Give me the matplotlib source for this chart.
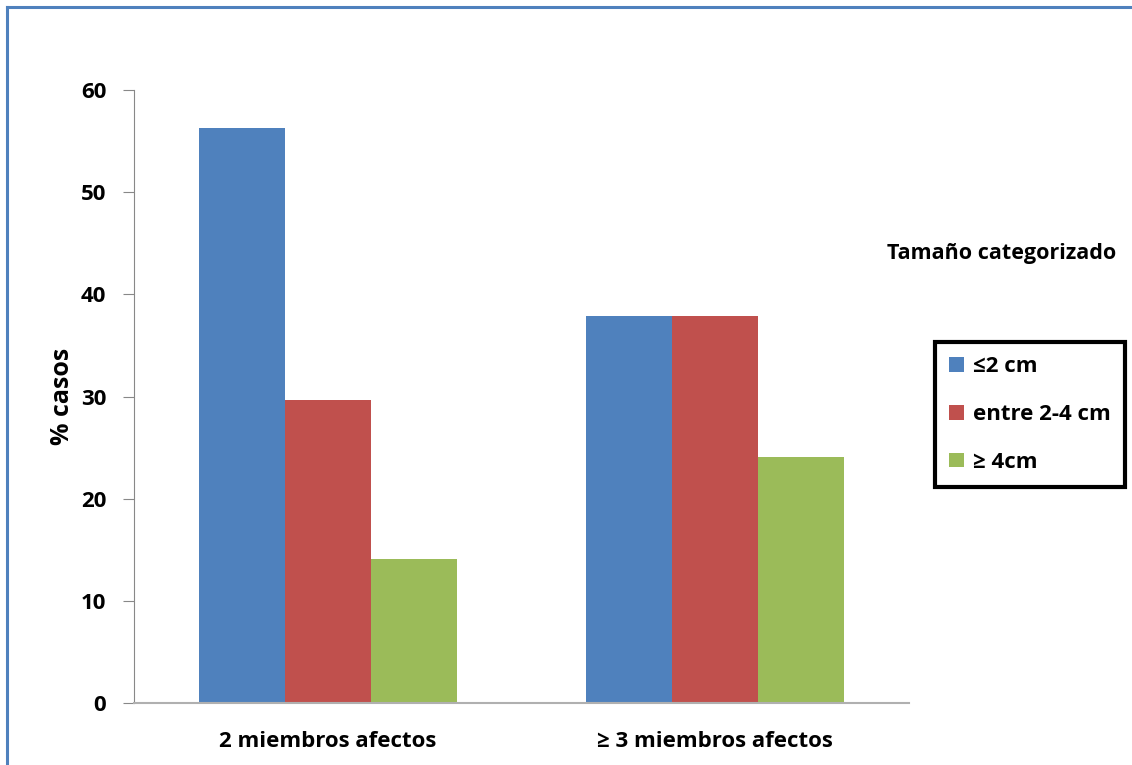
import matplotlib.pyplot as plt
import numpy as np

plt.rcParams['font.family'] = ['Open Sans', 'DejaVu Sans']
plt.rcParams['font.weight'] = 'bold'

grupos = ['2 miembros afectos', '≥ 3 miembros afectos']
series = ['≤2 cm', 'entre 2-4 cm', '≥ 4cm']
menor_2 = [56.3, 37.9]
entre_2_4 = [29.7, 37.9]
mayor_4 = [14.1, 24.1]
colores = ['#4f81bd', '#c0504d', '#9bbb59']

fig = plt.figure(figsize=(11.32, 7.65), dpi=100)
ax = fig.add_axes([0.1184, 0.0810, 0.6846, 0.8013])

x = np.arange(len(grupos))
w = 0.222
for i, (vals, lab) in enumerate(zip([menor_2, entre_2_4, mayor_4], series)):
    ax.bar(x + (i - 1) * w, vals, width=w, color=colores[i], label=lab)

ax.set_xlim(-0.5, 1.5)
ax.set_ylim(0, 60)
ax.set_yticks(range(0, 61, 10))
ax.set_xticks(x)
ax.set_xticklabels(grupos, fontsize=16, fontweight='bold')
ax.tick_params(axis='y', labelsize=16, length=8, color='#888888', pad=12)
ax.tick_params(axis='x', length=0, pad=20)
for lbl in ax.get_yticklabels():
    lbl.set_fontweight('bold')
ax.set_ylabel('% casos', fontsize=18, fontweight='bold', labelpad=4)

for s in ['top', 'right']:
    ax.spines[s].set_visible(False)
ax.spines['left'].set_color('#888888')
ax.spines['bottom'].set_color('#b0b0b0')
ax.spines['bottom'].set_linewidth(1.5)

fig.text(0.8847, 0.668, 'Tamaño categorizado', fontsize=15.5, fontweight='bold',
         ha='center', va='center')

leg = fig.legend(loc='upper left', bbox_to_anchor=(0.826, 0.553), fontsize=16,
                 frameon=True, fancybox=False, framealpha=1,
                 handlelength=0.65, handleheight=0.65,
                 handletextpad=0.4, labelspacing=1.2, borderpad=0.65, borderaxespad=0)
leg.get_frame().set_edgecolor('black')
leg.get_frame().set_linewidth(3)

# marco azul del gráfico
fig.add_artist(plt.Line2D([0.0062, 0.0062], [0, 0.991], color='#4f81bd', lw=2.2))
fig.add_artist(plt.Line2D([0.0062, 1], [0.991, 0.991], color='#4f81bd', lw=2.2))

fig.savefig('out.png', dpi=100)
